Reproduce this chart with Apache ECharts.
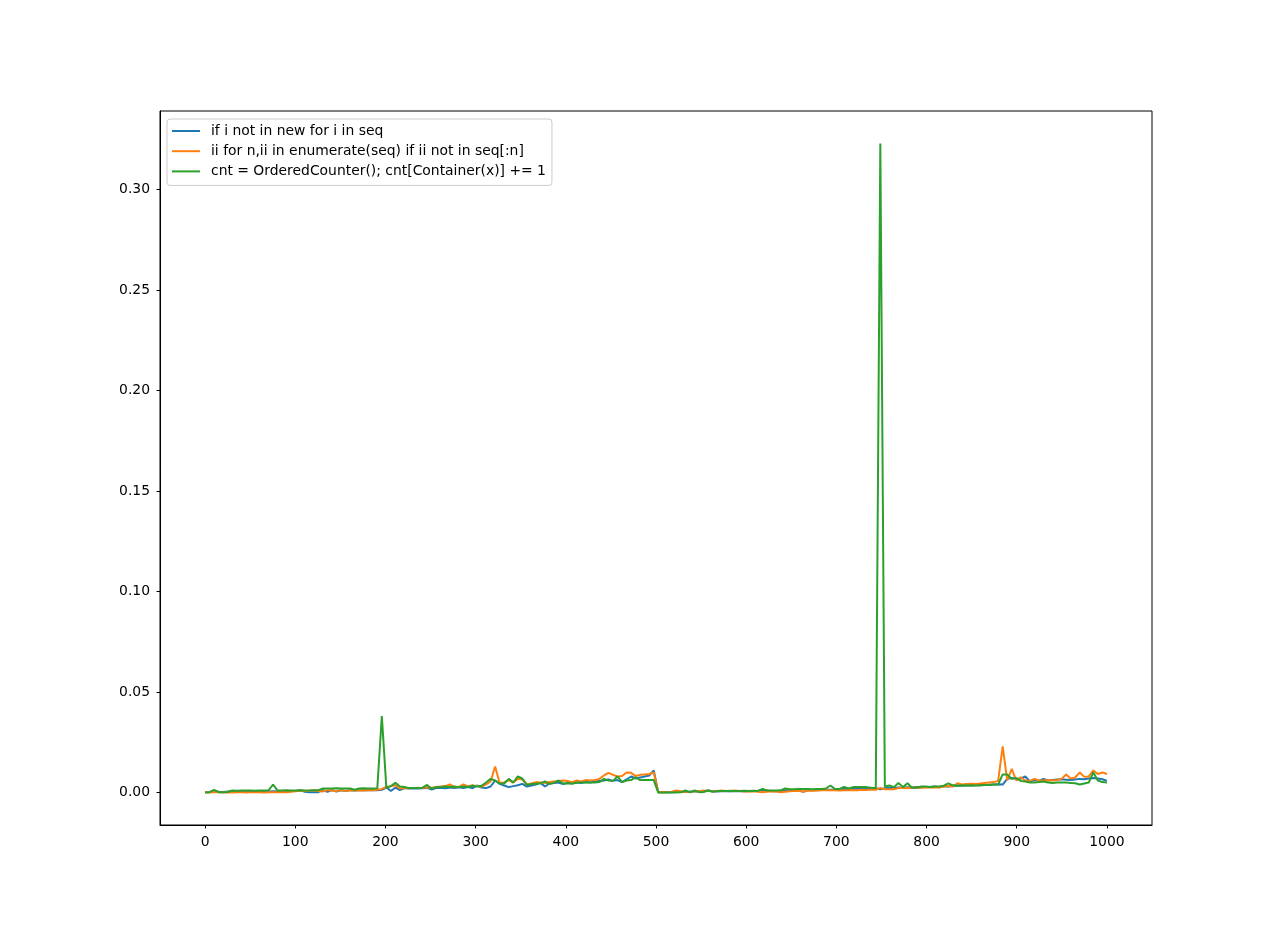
<!DOCTYPE html>
<html>
<head>
<meta charset="utf-8">
<title>dedup timings</title>
<script src="https://cdn.jsdelivr.net/npm/echarts@6.0.0/dist/echarts.min.js"></script>
<style>
  html, body { margin: 0; padding: 0; background: #fff; }
  #chart { width: 1280px; height: 927px; }
</style>
</head>
<body>
<div id="chart"></div>
<script>
// series names
var names = [
  'if i not in new for i in seq',
  'ii for n,ii in enumerate(seq) if ii not in seq[:n]',
  'cnt = OrderedCounter(); cnt[Container(x)] += 1'
];

// 200 samples spread evenly over 0..1000
var sampleCount = 200;
var xEnd = 1000;

// timings, one value per sample
var notInNew = [
  0.0002, 0.0003, 0.0008, 0.0004, 0.0003, 0.0005, 0.0008, 0.0005, 0.0004, 0.0006,
  0.0006, 0.0005, 0.0005, 0.0006, 0.0005, 0.0006, 0.0005, 0.0006, 0.0007, 0.0008,
  0.0008, 0.0012, 0.0004, 0.0001, 0.0001, 0.0002, 0.0012, 0.0004, 0.0012, 0.0005,
  0.0011, 0.0008, 0.0012, 0.0010, 0.0012, 0.0011, 0.0013, 0.0012, 0.0011, 0.0014,
  0.0025, 0.0008, 0.0025, 0.0012, 0.0022, 0.0020, 0.0021, 0.0020, 0.0021, 0.0023,
  0.0015, 0.0022, 0.0024, 0.0021, 0.0025, 0.0023, 0.0026, 0.0022, 0.0028, 0.0022,
  0.0035, 0.0025, 0.0022, 0.0030, 0.0060, 0.0043, 0.0035, 0.0027, 0.0032, 0.0036,
  0.0043, 0.0030, 0.0035, 0.0040, 0.0048, 0.0030, 0.0045, 0.0048, 0.0050, 0.0042,
  0.0048, 0.0046, 0.0050, 0.0048, 0.0052, 0.0050, 0.0055, 0.0058, 0.0060, 0.0065,
  0.0058, 0.0062, 0.0052, 0.0065, 0.0080, 0.0070, 0.0075, 0.0080, 0.0085, 0.0110,
  0.0001, 0.0002, 0.0003, 0.0002, 0.0004, 0.0003, 0.0005, 0.0004, 0.0006, 0.0005,
  0.0006, 0.0010, 0.0006, 0.0005, 0.0006, 0.0007, 0.0006, 0.0007, 0.0006, 0.0008,
  0.0007, 0.0008, 0.0009, 0.0012, 0.0010, 0.0006, 0.0008, 0.0004, 0.0010, 0.0012,
  0.0011, 0.0012, 0.0003, 0.0012, 0.0013, 0.0012, 0.0013, 0.0014, 0.0014, 0.0015,
  0.0016, 0.0018, 0.0017, 0.0019, 0.0020, 0.0018, 0.0019, 0.0020, 0.0021, 0.0016,
  0.0022, 0.0024, 0.0023, 0.0025, 0.0024, 0.0026, 0.0025, 0.0027, 0.0026, 0.0028,
  0.0028, 0.0030, 0.0026, 0.0031, 0.0030, 0.0033, 0.0035, 0.0034, 0.0036, 0.0035,
  0.0036, 0.0038, 0.0037, 0.0039, 0.0040, 0.0041, 0.0040, 0.0068, 0.0072, 0.0068,
  0.0070, 0.0080, 0.0055, 0.0062, 0.0058, 0.0068, 0.0060, 0.0062, 0.0065, 0.0066,
  0.0064, 0.0062, 0.0065, 0.0068, 0.0066, 0.0070, 0.0072, 0.0070, 0.0066, 0.0058
];

var enumerateSlice = [
  0.0001, 0.0000, 0.0003, 0.0001, 0.0000, 0.0002, 0.0000, 0.0001, 0.0002, 0.0000,
  0.0001, 0.0002, 0.0001, 0.0000, 0.0002, 0.0001, 0.0002, 0.0003, 0.0002, 0.0004,
  0.0006, 0.0010, 0.0008, 0.0009, 0.0011, 0.0008, 0.0005, 0.0012, 0.0010, 0.0007,
  0.0012, 0.0008, 0.0011, 0.0010, 0.0012, 0.0010, 0.0011, 0.0012, 0.0014, 0.0018,
  0.0028, 0.0032, 0.0036, 0.0020, 0.0022, 0.0021, 0.0022, 0.0024, 0.0022, 0.0026,
  0.0024, 0.0028, 0.0030, 0.0032, 0.0040, 0.0028, 0.0028, 0.0040, 0.0030, 0.0036,
  0.0032, 0.0030, 0.0040, 0.0055, 0.0130, 0.0048, 0.0050, 0.0062, 0.0050, 0.0068,
  0.0065, 0.0040, 0.0045, 0.0052, 0.0050, 0.0048, 0.0052, 0.0055, 0.0058, 0.0060,
  0.0058, 0.0052, 0.0060, 0.0055, 0.0062, 0.0060, 0.0062, 0.0068, 0.0085, 0.0098,
  0.0088, 0.0080, 0.0082, 0.0100, 0.0098, 0.0082, 0.0088, 0.0090, 0.0092, 0.0100,
  0.0002, 0.0003, 0.0001, 0.0004, 0.0010, 0.0006, 0.0003, 0.0004, 0.0006, 0.0007,
  0.0010, 0.0008, 0.0006, 0.0008, 0.0010, 0.0008, 0.0007, 0.0010, 0.0008, 0.0005,
  0.0005, 0.0006, 0.0004, 0.0002, 0.0004, 0.0006, 0.0005, 0.0001, 0.0004, 0.0007,
  0.0008, 0.0009, 0.0004, 0.0010, 0.0009, 0.0010, 0.0012, 0.0011, 0.0012, 0.0011,
  0.0010, 0.0012, 0.0011, 0.0013, 0.0012, 0.0014, 0.0013, 0.0015, 0.0014, 0.0023,
  0.0016, 0.0017, 0.0016, 0.0022, 0.0024, 0.0023, 0.0024, 0.0025, 0.0024, 0.0025,
  0.0025, 0.0026, 0.0025, 0.0030, 0.0032, 0.0030, 0.0046, 0.0040, 0.0042, 0.0044,
  0.0042, 0.0045, 0.0048, 0.0050, 0.0052, 0.0058, 0.0230, 0.0060, 0.0118, 0.0060,
  0.0076, 0.0060, 0.0058, 0.0068, 0.0060, 0.0060, 0.0062, 0.0060, 0.0062, 0.0068,
  0.0090, 0.0070, 0.0075, 0.0100, 0.0078, 0.0080, 0.0110, 0.0092, 0.0100, 0.0092
];

var orderedCounter = [
  0.0000, 0.0002, 0.0013, 0.0002, 0.0001, 0.0003, 0.0010, 0.0009, 0.0010, 0.0010,
  0.0010, 0.0009, 0.0010, 0.0010, 0.0011, 0.0040, 0.0010, 0.0010, 0.0011, 0.0010,
  0.0010, 0.0011, 0.0010, 0.0010, 0.0011, 0.0012, 0.0020, 0.0020, 0.0020, 0.0021,
  0.0020, 0.0020, 0.0020, 0.0014, 0.0020, 0.0021, 0.0020, 0.0020, 0.0021, 0.0380,
  0.0023, 0.0032, 0.0048, 0.0030, 0.0028, 0.0022, 0.0022, 0.0022, 0.0024, 0.0038,
  0.0018, 0.0028, 0.0026, 0.0030, 0.0028, 0.0030, 0.0026, 0.0030, 0.0028, 0.0034,
  0.0030, 0.0034, 0.0050, 0.0068, 0.0060, 0.0045, 0.0045, 0.0068, 0.0050, 0.0080,
  0.0070, 0.0038, 0.0042, 0.0044, 0.0046, 0.0056, 0.0042, 0.0048, 0.0060, 0.0045,
  0.0046, 0.0044, 0.0050, 0.0050, 0.0050, 0.0050, 0.0050, 0.0052, 0.0068, 0.0060,
  0.0058, 0.0080, 0.0052, 0.0060, 0.0062, 0.0076, 0.0062, 0.0062, 0.0062, 0.0062,
  0.0000, 0.0000, 0.0000, 0.0000, 0.0000, 0.0001, 0.0010, 0.0001, 0.0010, 0.0002,
  0.0003, 0.0010, 0.0004, 0.0008, 0.0008, 0.0008, 0.0009, 0.0008, 0.0008, 0.0009,
  0.0008, 0.0009, 0.0008, 0.0018, 0.0010, 0.0010, 0.0010, 0.0011, 0.0020, 0.0017,
  0.0017, 0.0018, 0.0018, 0.0018, 0.0017, 0.0018, 0.0018, 0.0020, 0.0035, 0.0018,
  0.0018, 0.0028, 0.0020, 0.0027, 0.0027, 0.0027, 0.0027, 0.0024, 0.0023, 0.3230,
  0.0030, 0.0035, 0.0027, 0.0048, 0.0027, 0.0046, 0.0024, 0.0024, 0.0030, 0.0030,
  0.0028, 0.0030, 0.0030, 0.0034, 0.0046, 0.0036, 0.0034, 0.0036, 0.0035, 0.0036,
  0.0035, 0.0035, 0.0038, 0.0038, 0.0040, 0.0040, 0.0090, 0.0090, 0.0068, 0.0072,
  0.0058, 0.0055, 0.0050, 0.0050, 0.0052, 0.0055, 0.0050, 0.0048, 0.0050, 0.0050,
  0.0050, 0.0048, 0.0046, 0.0040, 0.0045, 0.0050, 0.0100, 0.0060, 0.0052, 0.0050
];

// tick positions
var xTicks = [0, 100, 200, 300, 400, 500, 600, 700, 800, 900, 1000];
var yTicks = [0, 0.05, 0.10, 0.15, 0.20, 0.25, 0.30];

var colors = ['#1f77b4', '#ff7f0e', '#2ca02c'];
var font = 'DejaVu Sans';

function pairs(values) {
  return values.map(function (v, i) {
    return [i * xEnd / (sampleCount - 1), v];
  });
}

var chart = echarts.init(document.getElementById('chart'), null, { renderer: 'canvas' });

var option = {
  animation: false,
  backgroundColor: '#fff',
  color: colors,
  grid: {
    left: 160,
    top: 111,
    width: 992,
    height: 714,
    show: true,
    borderColor: '#000',
    borderWidth: 1,
    backgroundColor: '#fff'
  },
  legend: {
    orient: 'vertical',
    left: 167,
    top: 119,
    padding: [5, 6, 7, 5],
    itemGap: 6.2,
    itemWidth: 28,
    itemHeight: 2,
    icon: 'rect',
    backgroundColor: 'rgba(255,255,255,0.8)',
    borderColor: '#cccccc',
    borderWidth: 1,
    borderRadius: 3,
    textStyle: {
      fontFamily: font,
      fontSize: 13.9,
      color: '#000',
      lineHeight: 14,
      padding: [0, 0, 0, 6]
    },
    data: names
  },
  xAxis: {
    type: 'value',
    min: -50,
    max: 1050,
    splitLine: { show: false },
    axisLine: { show: true, onZero: false, lineStyle: { color: '#000', width: 1 } },
    axisTick: { show: true, length: 3.5, customValues: xTicks, lineStyle: { color: '#000' } },
    axisLabel: {
      customValues: xTicks,
      margin: 10,
      fontFamily: font,
      fontSize: 13.9,
      color: '#000',
      formatter: function (v) { return String(v); }
    }
  },
  yAxis: {
    type: 'value',
    min: -0.01615,
    max: 0.33915,
    splitLine: { show: false },
    axisLine: { show: true, onZero: false, lineStyle: { color: '#000', width: 1 } },
    axisTick: { show: true, length: 3.5, customValues: yTicks, lineStyle: { color: '#000' } },
    axisLabel: {
      customValues: yTicks,
      margin: 10,
      fontFamily: font,
      fontSize: 13.9,
      color: '#000',
      padding: [2, 0, 0, 0],
      formatter: function (v) { return v.toFixed(2); }
    }
  },
  series: [notInNew, enumerateSlice, orderedCounter].map(function (values, k) {
    return {
      name: names[k],
      type: 'line',
      data: pairs(values),
      showSymbol: false,
      symbol: 'none',
      lineStyle: { width: 2, color: colors[k] },
      itemStyle: { color: colors[k] }
    };
  })
};

chart.setOption(option);
</script>
</body>
</html>
